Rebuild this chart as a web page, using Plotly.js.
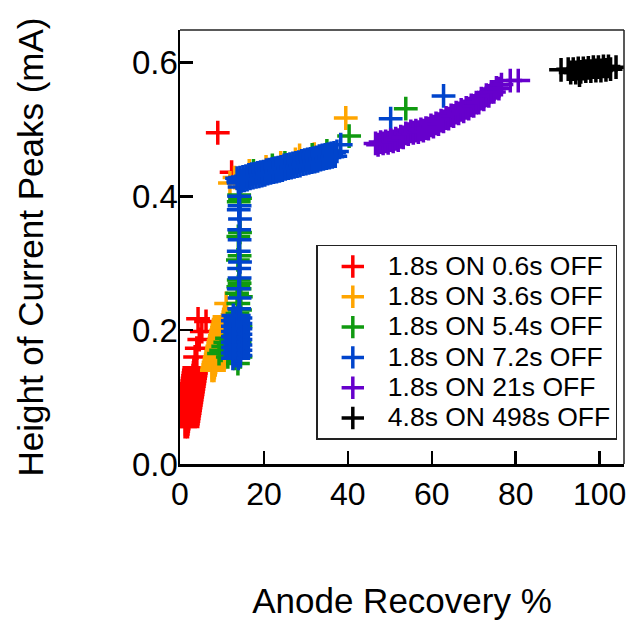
<!DOCTYPE html>
<html>
<head>
<meta charset="utf-8">
<script src="https://cdn.plot.ly/plotly-3.0.1.min.js"></script>
<style>html,body{margin:0;padding:0;background:#fff;}#chart{width:634px;height:622px;}</style>
</head>
<body>
<div id="chart"></div>
<script>
// Series names (legend labels)
var seriesNames = ["1.8s ON 0.6s OFF","1.8s ON 3.6s OFF","1.8s ON 5.4s OFF","1.8s ON 7.2s OFF","1.8s ON 21s OFF","4.8s ON 498s OFF"];

// 1.8s ON 0.6s OFF (red)
var redX = [1.2,1.8,1.3,1.9,1.4,2.0,1.5,2.1,1.6,2.2,1.7,2.3,1.8,2.4,1.9,2.5,2.0,2.6,2.1,2.7,2.2,2.8,2.3,2.9,
            2.4,3.0,2.5,3.1,2.6,3.2,2.7,3.3,2.8,3.4,2.9,3.5,3.0,3.6,3.1,3.7,3.2,3.8,3.3,3.9,3.4,4.0,
            3.6,4.0,4.6,5.2,4.3,6.2,12.3,9.0];
var redY = [0.056,0.056,0.060,0.060,0.064,0.064,0.068,0.068,0.072,0.072,0.076,0.076,0.080,0.080,0.084,0.084,0.088,0.088,0.092,0.092,0.096,0.096,0.100,0.100,
            0.104,0.104,0.108,0.108,0.112,0.112,0.116,0.116,0.120,0.120,0.124,0.124,0.128,0.128,0.132,0.132,0.136,0.136,0.140,0.140,0.144,0.144,
            0.160,0.173,0.186,0.198,0.217,0.213,0.436,0.495];

// 1.8s ON 3.6s OFF (orange)
var orangeX = [7.6,8.1,7.7,8.2,7.9,8.4,8.0,8.5,8.2,8.7,8.3,8.8,8.5,9.0,8.6,9.1,8.8,9.3,8.9,9.4,9.1,9.6,9.2,9.7,9.4,9.9,9.5,10.0,9.7,10.2,9.8,10.3,10.0,10.5,10.1,10.6,10.3,10.8,10.4,10.9,10.6,11.1,
               11.0,11.9,13.0,16.5,20.5,24.0,27.5,28.5,32.0,39.5];
var orangeY = [0.140,0.140,0.144,0.144,0.148,0.148,0.152,0.152,0.156,0.156,0.160,0.160,0.164,0.164,0.168,0.168,0.172,0.172,0.176,0.176,0.180,0.180,0.184,0.184,0.188,0.188,0.192,0.192,0.196,0.196,0.200,0.200,0.204,0.204,0.208,0.208,0.212,0.212,0.216,0.216,0.220,0.220,
               0.240,0.420,0.428,0.438,0.444,0.450,0.455,0.461,0.463,0.517];

// 1.8s ON 5.4s OFF (green)
var greenX = [9.3,9.8,10.3,10.8,11.2,11.6,12.0,11.4,12.4,13.0,13.8,14.4,13.3,14.2,
              13.6,14.4,13.7,14.3,13.9,14.5,13.6,14.2,13.9,14.2,14.0,13.8,14.2,13.9,14.3,14.0,14.3,14.1,
              17.5,22.0,25.0,31.5,35.0,40.3,53.8];
var greenY = [0.165,0.170,0.176,0.182,0.188,0.178,0.168,0.160,0.168,0.158,0.150,0.160,0.175,0.182,
              0.200,0.205,0.225,0.230,0.240,0.250,0.255,0.262,0.265,0.270,0.275,0.305,0.311,0.340,0.346,0.392,0.397,0.402,
              0.438,0.446,0.450,0.462,0.468,0.490,0.531];

// 1.8s ON 7.2s OFF (blue)
var blueX = [12.6,13.9,13.2,14.4,12.6,13.9,13.2,14.4,12.6,13.9,13.2,14.4,12.6,13.9,13.2,14.4,12.6,13.9,13.2,14.4,12.6,13.9,13.2,14.4,12.6,13.9,13.2,14.4,12.6,13.9,13.2,14.4,12.7,14.0,
             14.1,14.2,14.0,14.2,14.1,14.3,14.0,14.2,14.1,14.3,14.0,14.2,14.1,14.2,14.0,
             13.6,14.3,15.0,15.7,16.4,17.1,17.8,18.5,19.2,19.9,20.6,21.3,22.0,22.7,23.4,24.1,24.8,25.5,26.2,26.9,27.6,28.3,29.0,29.7,30.4,31.1,31.8,32.5,33.2,33.9,34.6,35.3,36.0,36.7,37.4,
             13.9,14.6,15.3,16.0,16.7,17.4,18.1,18.8,19.5,20.2,20.9,21.6,22.3,23.0,23.7,24.4,25.1,25.8,26.5,27.2,27.9,28.6,29.3,30.0,30.7,31.4,32.1,32.8,33.5,34.2,34.9,35.6,36.3,37.0,
             38.3,50.2,62.8];
var blueY = [0.158,0.158,0.162,0.162,0.166,0.166,0.170,0.170,0.174,0.174,0.178,0.178,0.182,0.182,0.186,0.186,0.190,0.190,0.194,0.194,0.198,0.198,0.202,0.202,0.206,0.206,0.210,0.210,0.214,0.214,0.218,0.218,0.222,0.222,
             0.232,0.248,0.262,0.278,0.292,0.302,0.318,0.335,0.350,0.366,0.380,0.386,0.400,0.414,0.420,
             0.427,0.428,0.429,0.430,0.432,0.433,0.434,0.435,0.436,0.437,0.439,0.440,0.441,0.442,0.443,0.444,0.446,0.447,0.448,0.449,0.450,0.451,0.453,0.454,0.455,0.456,0.457,0.458,0.460,0.461,0.462,0.463,0.464,0.465,0.467,
             0.422,0.423,0.424,0.425,0.427,0.428,0.429,0.430,0.431,0.432,0.434,0.435,0.436,0.437,0.438,0.439,0.441,0.442,0.443,0.444,0.445,0.446,0.448,0.449,0.450,0.451,0.452,0.453,0.455,0.456,0.457,0.458,0.459,0.460,
             0.477,0.516,0.550];

// 1.8s ON 21s OFF (purple)
var purpleX = [46.6,47.2,47.8,48.4,49.0,49.6,50.2,50.8,51.4,52.0,52.6,53.2,53.8,54.4,55.0,55.6,56.2,56.8,57.4,58.0,58.6,59.2,59.8,60.4,61.0,61.6,62.2,62.8,63.4,64.0,
               64.6,65.2,65.8,66.4,67.0,67.6,68.2,68.8,69.4,70.0,70.6,71.2,71.8,72.4,73.0,73.6,74.2,74.8,75.4,76.0,76.6,78.7,80.6];
var purpleY = [0.479,0.477,0.481,0.479,0.482,0.480,0.484,0.482,0.486,0.484,0.489,0.488,0.494,0.493,0.497,0.495,0.498,0.496,0.500,0.498,0.502,0.501,0.506,0.504,0.509,0.508,0.513,0.512,0.517,0.516,
               0.521,0.520,0.525,0.524,0.529,0.527,0.532,0.531,0.536,0.535,0.540,0.540,0.546,0.545,0.551,0.550,0.556,0.556,0.562,0.561,0.567,0.573,0.573];

// 4.8s ON 498s OFF (black)
var blackX = [92.5,93.1,93.7,94.3,94.9,95.5,96.1,96.7,97.3,97.9,98.5,99.1,99.7,100.3,100.9,101.5,102.1,102.6,
              90.8,103.9,95.2];
var blackY = [0.590,0.585,0.590,0.585,0.591,0.586,0.591,0.587,0.592,0.587,0.593,0.588,0.593,0.588,0.594,0.589,0.594,0.590,
              0.589,0.593,0.581];

var seriesX = [redX, orangeX, greenX, blueX, purpleX, blackX];
var seriesY = [redY, orangeY, greenY, blueY, purpleY, blackY];
var colors = ["#ff0000","#ffa500","#109a10","#0044cc","#6600cc","#000000"];

var xTicks = [0,20,40,60,80,100];
var yTicks = [0.0,0.2,0.4,0.6];

var FONT = "Liberation Sans, Arial, Helvetica, sans-serif";

var traces = seriesNames.map(function(name, i){
  return {
    type: "scatter", mode: "markers",
    name: '<span style="font-size:26.5px">' + name + '</span>',
    x: seriesX[i], y: seriesY[i],
    marker: {symbol: "cross-thin", size: 17, color: colors[i], line: {color: colors[i], width: 3.5}}
  };
});

var layout = {
  width: 634, height: 622,
  margin: {l: 180, r: 8, t: 30, b: 158, pad: 0},
  paper_bgcolor: "#fff", plot_bgcolor: "#fff",
  font: {family: FONT, color: "#000", size: 32},
  showlegend: true,
  legend: {
    x: 0.307, y: 0.505, xanchor: "left", yanchor: "top",
    bgcolor: "#fff", bordercolor: "#222", borderwidth: 1.5,
    font: {family: FONT, size: 21, color: "#000"},
    itemwidth: 60
  },
  xaxis: {
    range: [0, 105.8], tickvals: xTicks, ticktext: xTicks.map(String),
    ticks: "inside", ticklen: 13, tickwidth: 2.5, tickcolor: "#000",
    showline: true, linecolor: "#000", linewidth: 2.5, mirror: false,
    showgrid: false, zeroline: false,
    tickfont: {family: FONT, size: 32, color: "#000"},
    title: {text: "Anode Recovery %", font: {family: FONT, size: 35, color: "#000"}, standoff: 78},
    automargin: true
  },
  yaxis: {
    range: [0, 0.6485], tickvals: yTicks, ticktext: yTicks.map(function(v){return v.toFixed(1);}),
    ticks: "inside", ticklen: 13, tickwidth: 2.5, tickcolor: "#000",
    showline: true, linecolor: "#000", linewidth: 2.5, mirror: false,
    showgrid: false, zeroline: false,
    ticklabelstandoff: -7,
    tickfont: {family: FONT, size: 33, color: "#000"},
    title: {text: "Height of Current Peaks (mA)", font: {family: FONT, size: 35, color: "#000"}, standoff: 78},
    automargin: true
  },
  shapes: [
    {type: "line", xref: "paper", yref: "paper", x0: 0, x1: 1, y0: 1, y1: 1, line: {color: "#222", width: 1.5}},
    {type: "line", xref: "paper", yref: "paper", x0: 1, x1: 1, y0: 0, y1: 1, line: {color: "#222", width: 1.5}}
  ]
};

Plotly.newPlot("chart", traces, layout, {staticPlot: true, displayModeBar: false});
</script>
</body>
</html>
